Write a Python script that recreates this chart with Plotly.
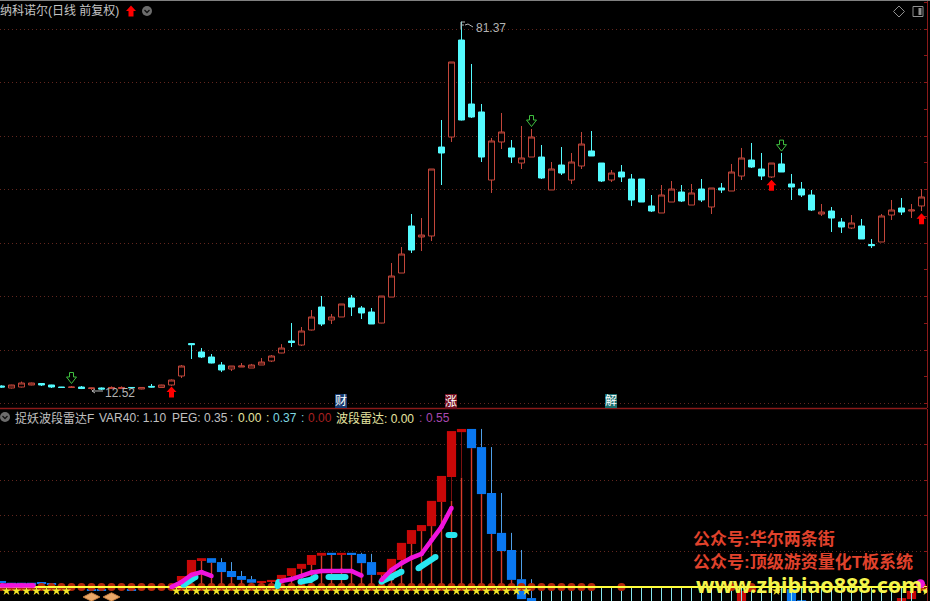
import plotly.graph_objects as go

W, H = 930, 601
PLOT_R = 927

idx = list(range(93))
opens = [13.27,12.90,13.08,13.46,13.74,13.46,13.08,13.00,13.08,12.80,12.90,12.80,12.80,13.00,12.71,13.20,13.00,13.46,15.14,21.20,
 19.63,18.69,17.20,16.45,16.82,16.63,17.20,17.94,19.44,21.68,20.93,23.74,28.04,25.61,26.17,29.72,27.85,27.10,25.04,29.90,
 34.39,43.18,41.12,41.31,57.94,59.81,77.94,65.98,64.49,51.77,58.88,57.76,54.95,56.07,56.07,49.91,54.58,51.77,54.39,57.20,
 54.95,51.77,53.27,51.96,51.96,46.92,45.61,47.66,49.53,47.10,50.09,46.73,50.28,49.72,52.52,55.51,53.83,52.34,54.77,51.03,
 50.09,48.97,45.42,45.98,43.92,42.80,43.18,39.72,40.19,45.23,46.54,45.98,46.92]
highs = [13.40,13.50,14.10,13.90,13.80,13.50,13.10,13.27,13.27,12.95,13.00,13.20,13.20,13.05,13.00,13.64,13.50,14.50,17.20,21.30,
 20.37,19.25,17.75,17.01,17.57,17.40,18.50,19.06,21.10,25.04,24.30,27.47,30.09,26.73,28.60,30.28,28.22,27.85,30.10,36.26,
 39.25,45.42,44.67,53.83,62.99,73.83,81.37,73.46,65.98,59.63,64.30,59.25,61.87,61.31,58.32,55.14,57.94,56.82,60.75,60.93,
 54.95,53.64,54.58,52.90,51.96,48.97,50.84,51.59,50.84,51.03,51.96,50.28,51.21,54.77,57.76,58.69,56.82,54.95,56.82,52.90,
 51.40,49.91,47.29,46.73,44.67,45.23,44.49,40.75,45.42,48.04,48.41,47.29,50.09]
lows = [12.95,12.80,13.00,13.40,13.27,12.90,13.00,12.95,12.70,12.50,12.52,12.70,12.70,12.90,12.65,13.00,12.95,13.30,14.76,18.32,
 18.50,17.50,15.88,16.07,16.82,16.63,17.20,17.75,19.40,20.56,20.75,23.65,24.48,24.86,26.17,26.35,25.79,24.86,25.00,29.90,
 34.39,38.13,38.50,40.37,50.84,58.88,62.90,63.37,55.14,49.35,57.57,54.95,53.83,56.07,51.96,49.91,52.71,51.03,53.83,56.26,
 51.40,51.40,51.40,46.92,47.66,45.79,45.61,47.66,47.66,47.10,47.66,45.42,49.35,49.72,51.77,54.02,51.77,52.15,53.27,48.04,
 48.60,45.98,45.05,42.06,41.87,42.61,40.75,39.06,40.19,44.30,45.23,44.67,45.98]
closes = [13.08,13.46,13.83,13.83,13.46,13.08,13.00,13.08,12.80,12.90,12.71,13.00,13.00,12.95,13.00,13.08,13.46,14.39,17.01,21.00,
 18.69,17.57,16.26,17.01,17.01,17.20,17.75,18.88,20.37,21.40,23.55,26.17,24.86,26.17,28.60,28.04,26.92,24.86,30.09,33.83,
 37.94,38.69,41.49,53.83,56.82,73.83,62.99,63.55,56.07,59.07,60.75,56.07,55.89,59.81,52.15,53.83,53.08,55.14,58.50,56.26,
 51.59,53.08,52.34,48.04,47.66,45.98,48.97,50.09,47.85,49.35,48.04,50.28,49.91,53.27,55.89,54.20,52.52,54.95,53.27,50.47,
 48.97,46.17,45.79,44.67,42.99,43.74,40.75,39.50,45.05,46.17,45.79,46.17,48.60]

buy_i = [17, 77, 92]
buy_p = [12.15, 50.8, 44.55]
sell_i = [7, 53, 78]
sell_p = [14.77, 62.8, 58.2]

red_i = [18,19,20,26,27,28,29,30,31,32,34,38,39,40,41,42,43,44,45,46,74,75,90,91,92]
red_top = [.31,.76,.81,.17,.20,.34,.53,.65,.90,.96,.96,.42,.79,1.24,1.60,1.74,2.42,3.12,4.38,4.44,-.11,.03,-.31,-.11,.08]
red_bot = [.17,.31,.73,.12,.15,.20,.31,.51,.62,.88,.90,.34,.39,.76,1.21,1.57,1.71,2.39,3.09,4.35,-.45,-.14,-.50,-.34,-.11]

blue_i = [0,1,2,3,4,5,9,10,13,21,22,23,24,25,33,35,36,37,47,48,49,50,51,52,53,79,80]
blue_top = [.17,.12,.12,.12,.12,.11,-.07,-.07,-.08,.81,.70,.45,.31,.22,.96,.96,.93,.70,4.44,3.93,2.64,1.52,1.04,.22,-.31,-.06,-.37]
blue_bot = [.11,.08,.08,.08,.09,.08,-.10,-.10,-.11,.68,.42,.28,.20,.12,.90,.90,.67,.34,3.90,2.61,1.49,1.01,.20,-.34,-.65,-.70,-.70]

wick_i = [22,23,24,25,36,37,48,49,50,51,52,53]
wick_top = [.81,.70,.45,.31,.96,.93,4.44,3.93,2.64,1.52,1.04,.22]
wick_bot = [.70,.45,.31,.22,.93,.70,3.93,2.64,1.52,1.04,.22,-.31]

stem_i = [19,20,21,22,23,24,25,26,27,28,29,30,31,32,33,34,35,36,37,38,39,40,41,42,43,44,45,46,47,48,49,50,51]
stem_v = [.31,.73,.68,.42,.28,.20,.12,.12,.15,.20,.31,.51,.62,.88,.90,.90,.90,.67,.34,.34,.39,.76,1.21,1.57,1.71,2.39,2.42,3.07,3.90,2.61,1.49,1.01,.20]

dark_i = [45,46]
dark_top = [3.09,4.35]
dark_bot = [2.42,3.07]

low_i = [54,55,56,57,58,59,60,61,62,63,64,65,66,67,68,69,70,71,72,73,74,75,76,77,78,79,80,81,82,83,84,85,86,87,88,89,90,91]
low_v = [-.4,-.4,-.4,-.4,-.4,-.4,-.4,-.4,-.4,-.4,-.4,-.4,-.4,-.4,-.4,-.4,-.4,-.4,-.4,-.4,-.4,-.4,-.4,-.4,-.4,-.4,-.4,-.4,-.4,-.4,-.4,-.4,-.4,-.4,-.4,-.4,-.4,-.4]

dot_i = [0,1,2,3,4,5,6,7,8,9,10,11,12,13,14,15,16,17,18,19,20,21,22,23,24,25,26,27,28,29,30,31,32,33,34,35,36,37,38,39,
         40,41,42,43,44,45,46,47,48,49,50,51,52,53,54,55,56,57,58,59,62,73,75,92]
star_x = [0.5,1.5,2.5,3.5,4.5,5.5,6.5,17.5,18.5,19.5,20.5,21.5,22.5,23.5,24.5,25.5,26.5,27.5,28.5,29.5,30.5,31.5,32.5,33.5,34.5,
          35.5,36.5,37.5,38.5,39.5,40.5,41.5,42.5,43.5,44.5,45.5,46.5,47.5,48.5,49.5,50.5,51.5,52.5,77.5,92.5]
zero_x = [-0.15, 92.55]
zero_v = [0, 0]
gem_i = [9, 11]
gem_v = [-.28, -.28]

mag_x = [0,1,2,3,3.2,None,17,18,19,20,21,None,28,29,30,31,32,33,34,35,36,None,38,39,40,41,42,43,44,45]
mag_v = [.04,.04,.04,.04,.04,None,0,.14,.34,.42,.31,None,.17,.22,.31,.41,.45,.45,.46,.45,.32,None,.2,.48,.67,.82,.93,1.32,1.69,2.22]
mag_end_x = [91.9]
mag_end_v = [.09]
cy_x = [18.2,19.4,None,27.6,27.7,None,29.9,30.9,31.4,None,32.7,34.4,None,38,39,40,None,41.7,43.4,None,44.7,45.3]
cy_v = [.06,.28,None,.03,.14,None,.15,.20,.28,None,.28,.28,None,.15,.27,.43,None,.53,.84,None,1.46,1.46]

BG = "#000000"
UP = "#c2463a"
DN = "#54fbff"
GRID = "#62261e"
RED = "#c80808"
BLUE = "#0a78f0"
SERIF = "Liberation Sans, Noto Sans CJK SC"
UP_ARROW = "M0,5.5 L5,0 L2.5,0 L2.5,-5.5 L-2.5,-5.5 L-2.5,0 L-5,0 Z"
DOWN_ARROW = "M-2,5.5 L2,5.5 L2,1 L5,1 L0,-5.5 L-5,1 L-2,1 Z"

def px(x): return x / W
def py(y): return 1 - y / H

fig = go.Figure()
fig.add_trace(go.Candlestick(x=idx, open=opens, high=highs, low=lows, close=closes, xaxis="x", yaxis="y",
    increasing=dict(line=dict(color=UP, width=1), fillcolor=BG),
    decreasing=dict(line=dict(color=DN, width=1), fillcolor=DN), whiskerwidth=0))

for x, y in zip(sell_i, sell_p):
    fig.add_shape(type="path", xref="x", yref="y", xsizemode="pixel", ysizemode="pixel", xanchor=x, yanchor=y,
                  path=DOWN_ARROW, line=dict(color="#3fbf3f", width=1), fillcolor="rgba(0,0,0,0)")
for x, y in zip(buy_i, buy_p):
    fig.add_shape(type="path", xref="x", yref="y", xsizemode="pixel", ysizemode="pixel", xanchor=x, yanchor=y,
                  path=UP_ARROW, line=dict(width=0), fillcolor="#ff0000")

def bars(x, top, bot, color, width):
    fig.add_trace(go.Bar(x=x, y=[t - b for t, b in zip(top, bot)], base=bot, width=width,
        marker=dict(color=color, line=dict(width=0)), xaxis="x2", yaxis="y2"))

def stems(x, top, bot, color, lw=1):
    xs, ys = [], []
    for i, t, b in zip(x, top, bot):
        xs += [i, i, None]
        ys += [b, t, None]
    fig.add_trace(go.Scatter(x=xs, y=ys, mode="lines", line=dict(color=color, width=lw), xaxis="x2", yaxis="y2"))

stems(stem_i, stem_v, [0] * len(stem_i), "#d83a2a", 1.4)
stems(dark_i, dark_top, dark_bot, "#7a1010")
stems(wick_i, wick_top, wick_bot, "#4e9fe8")
stems(low_i, [0] * len(low_i), low_v, "#86e6ee")
bars(red_i, red_top, red_bot, RED, 0.92)
bars(blue_i, blue_top, blue_bot, BLUE, 0.92)
fig.add_trace(go.Scatter(x=dot_i, y=[0] * len(dot_i), mode="markers", xaxis="x2", yaxis="y2",
    marker=dict(color="#b82a0c", size=8, line=dict(width=0))))
fig.add_trace(go.Scatter(x=zero_x, y=zero_v, mode="lines", xaxis="x2", yaxis="y2",
    line=dict(color="#ffff3c", width=2)))
fig.add_trace(go.Scatter(x=star_x, y=[-.11] * len(star_x), mode="markers", xaxis="x2", yaxis="y2",
    marker=dict(color="#f4e628", size=7, symbol="star", line=dict(width=0))))
fig.add_trace(go.Scatter(x=gem_i, y=gem_v, mode="markers", xaxis="x2", yaxis="y2",
    marker=dict(color="#eaa868", size=12, symbol="diamond-wide", line=dict(color="#c88040", width=1))))
fig.add_trace(go.Scatter(x=cy_x, y=cy_v, mode="lines+markers", xaxis="x2", yaxis="y2",
    line=dict(color="#28e6f0", width=6), marker=dict(color="#28e6f0", size=6)))
fig.add_trace(go.Scatter(x=mag_x, y=mag_v, mode="lines+markers", xaxis="x2", yaxis="y2",
    line=dict(color="#f014dc", width=4.5), marker=dict(color="#f014dc", size=4.5)))
fig.add_trace(go.Scatter(x=mag_end_x, y=mag_end_v, mode="markers", xaxis="x2", yaxis="y2",
    marker=dict(color="#f014dc", size=9)))

def note(x, y, text, color="#c0c0c0", size=12, anchor="left", bold=False, family=SERIF, **kw):
    fig.add_annotation(xref="paper", yref="paper", x=px(x), y=py(y), text=f"<b>{text}</b>" if bold else text,
        showarrow=False, xanchor=anchor, yanchor="middle", font=dict(color=color, size=size, family=family),
        borderpad=0, borderwidth=0, **kw)

note(0, 10.5, "纳科诺尔(日线 前复权)", size=12, color="#c4c4c4")
note(15, 418, "捉妖波段雷达F", size=12)
note(99, 418, "VAR40: 1.10")
note(172, 418, "PEG: 0.35")
note(230, 418, ":")
note(238, 418, "0.00", color="#e6e6a0")
note(266, 418, ":", color="#e6e6a0")
note(273, 418, "0.37", color="#7fd8e0")
note(301, 418, ":", color="#7fd8e0")
note(308, 418, "0.00", color="#a82020")
note(336, 418, "波段雷达: 0.00", color="#e6e6a0", size=12)
note(419, 418, ":", color="#a040a0")
note(426, 418, "0.55", color="#a848b0")
note(476, 28, "81.37", color="#b4b4b4")
note(105, 392.5, "12.52", color="#b4b4b4")
note(341, 401, "财", color="#ffffff", anchor="center", bgcolor="#163a70")
note(451, 401, "涨", color="#ffffff", anchor="center", bgcolor="#741020")
note(611, 401, "解", color="#ffffff", anchor="center", bgcolor="#1a6e6e")
note(693, 539, "公众号:华尔两条街", color="#e0422c", size=17, bold=True)
note(693, 562, "公众号:顶级游资量化T板系统", color="#e0422c", size=17, bold=True)
note(696, 584.5, "www.zhibiao888.com.", color="#f4f44c", size=21.5, bold=True, family="Noto Sans, Liberation Sans")

def pxpath(points):
    return " ".join(f"{c}{px(x):.5f},{py(y):.5f}" for c, x, y in points)

def shape(type_, **kw):
    fig.add_shape(type=type_, xref="paper", yref="paper", **kw)

# chrome
shape("line", x0=0, x1=px(PLOT_R), y0=py(408.5), y1=py(408.5), line=dict(color="#8a1a1a", width=1.5))
shape("line", x0=0, x1=1, y0=py(0.5), y1=py(0.5), line=dict(color="#808080", width=1))
fig.add_shape(type="path", xref="paper", yref="paper", xsizemode="pixel", ysizemode="pixel", xanchor=px(131), yanchor=py(11),
              path=UP_ARROW, line=dict(width=0), fillcolor="#ff0000")
shape("circle", x0=px(142), x1=px(152), y0=py(16), y1=py(6), fillcolor="#6c6c6c", line=dict(width=0))
shape("circle", x0=px(0), x1=px(10), y0=py(422), y1=py(412), fillcolor="#6c6c6c", line=dict(width=0))
shape("path", path=pxpath([("M", 144.5, 10), ("L", 147, 12.5), ("L", 149.5, 10)]), line=dict(color="#101010", width=1.3))
shape("path", path=pxpath([("M", 2.5, 416), ("L", 5, 418.5), ("L", 7.5, 416)]), line=dict(color="#101010", width=1.3))
shape("path", path=pxpath([("M", 899, 6), ("L", 904.5, 11.5), ("L", 899, 17), ("L", 893.5, 11.5), ("L", 899, 6)]),
      line=dict(color="#909090", width=1))
shape("rect", x0=px(913), x1=px(923), y0=py(16.5), y1=py(6.5), line=dict(color="#909090", width=1))
shape("rect", x0=px(918.5), x1=px(921.5), y0=py(15), y1=py(8), fillcolor="#909090", line=dict(width=0))
# the little flag and pointer beside the two extreme price labels
shape("path", path=pxpath([("M", 465, 22), ("L", 461, 22), ("L", 461, 29), ("M", 461, 25), ("L", 464, 25),
                           ("M", 465, 25), ("L", 468, 24), ("L", 473, 27)]), line=dict(color="#b4b4b4", width=1))
shape("path", path=pxpath([("M", 103, 391), ("L", 92, 391), ("L", 95, 389), ("M", 92, 391), ("L", 95, 393)]),
      line=dict(color="#b4b4b4", width=1))

axis_x = dict(range=[-0.15, 92.55], domain=[0, PLOT_R / W], showgrid=False, zeroline=False, showticklabels=False,
              ticks="", showline=False, fixedrange=True)
fig.update_layout(
    width=W, height=H, autosize=False, margin=dict(l=0, r=0, t=0, b=0, pad=0),
    paper_bgcolor=BG, plot_bgcolor=BG, showlegend=False, barmode="overlay", boxgap=0.4, boxgroupgap=0,
    xaxis=dict(axis_x, anchor="y", rangeslider=dict(visible=False)),
    xaxis2=dict(axis_x, anchor="y2"),
    yaxis=dict(domain=[py(408), 1], range=[9.16, 85.42], dtick=10, tick0=0, gridcolor=GRID, griddash="1px,3px", gridwidth=1,
               zeroline=False, showticklabels=False, side="right", anchor="x", showline=True, linecolor="#8a1a1a", linewidth=1,
               ticks="inside", ticklen=3, tickcolor="#8a1a1a", fixedrange=True,
               minor=dict(dtick=5, ticks="inside", ticklen=3, tickcolor="#8a1a1a", showgrid=False)),
    yaxis2=dict(domain=[0, py(409)], range=[-0.393, 5.0], dtick=1, tick0=0, gridcolor=GRID, griddash="1px,3px", gridwidth=1,
                zeroline=False, showticklabels=False, side="right", anchor="x2", showline=True, linecolor="#8a1a1a", linewidth=1,
                ticks="inside", ticklen=3, tickcolor="#8a1a1a", fixedrange=True),
)

fig.write_html("out.html", config=dict(displayModeBar=False),
               post_script="document.body.style.margin='0';")
